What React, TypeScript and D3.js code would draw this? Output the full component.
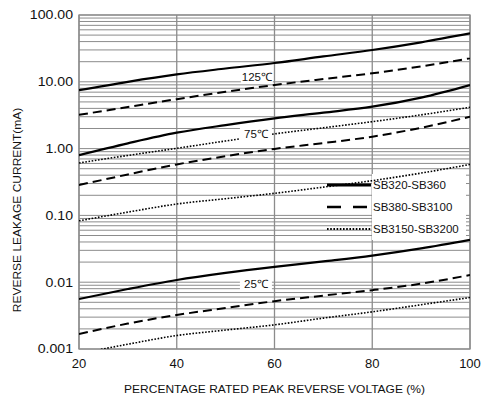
import React from "react";
import * as d3 from "d3";

// percent of rated peak reverse voltage
const voltage = [20, 30, 40, 50, 60, 70, 80, 90, 100];

// reverse leakage current (mA)
const sb320Hot = [7.5, 10.0, 12.9, 15.8, 19.1, 24.0, 29.9, 39.0, 53];
const sb380Hot = [3.2, 4.2, 5.5, 7.1, 8.95, 11.0, 13.4, 17.0, 22.5];
const sb3150Hot = [0.61, 0.79, 1.01, 1.3, 1.66, 2.05, 2.53, 3.2, 4.15];
const sb320Mid = [0.8, 1.2, 1.73, 2.25, 2.84, 3.45, 4.24, 5.8, 8.95];
const sb380Mid = [0.285, 0.41, 0.58, 0.77, 0.99, 1.21, 1.51, 2.05, 3.0];
const sb3150Mid = [0.083, 0.112, 0.148, 0.178, 0.214, 0.265, 0.331, 0.43, 0.58];
const sb320Low = [0.0056, 0.0079, 0.0108, 0.0138, 0.017, 0.0205, 0.025, 0.032, 0.043];
const sb380Low = [0.00168, 0.0024, 0.00323, 0.0041, 0.0052, 0.0063, 0.0076, 0.0095, 0.0128];
const sb3150Low = [0.00085, 0.00118, 0.00159, 0.00192, 0.0023, 0.0029, 0.0036, 0.0046, 0.0059];

const xTicks = [20, 40, 60, 80, 100];
const yTicks = [0.001, 0.01, 0.1, 1, 10, 100];
const yTickLabels = ["0.001", "0.01", "0.10", "1.00", "10.00", "100.00"];

const tempLabels = ["125℃", "75℃", "25℃"];
const tempLabelX = [56.4, 56.2, 56.2];
const tempLabelY = [11.8, 1.66, 0.0094];

const legendNames = ["SB320-SB360", "SB380-SB3100", "SB3150-SB3200"];

const W = 488, H = 396;
const left = 79, right = 470, top = 15, bottom = 349;

const styles: Record<string, { w: number; dash: string }> = {
  solid: { w: 2.2, dash: "" },
  dashed: { w: 2, dash: "9 5" },
  dotted: { w: 1.6, dash: "1.6 1.6" },
};

export default function App() {
  const x = d3.scaleLinear().domain([20, 100]).range([left, right]);
  const y = d3.scaleLog().domain([0.001, 100]).range([bottom, top]);

  const line = d3
    .line<number>()
    .x((_, i) => x(voltage[i]))
    .y((d) => y(d))
    .curve(d3.curveMonotoneX);

  const curves = [
    { data: sb320Hot, s: "solid" },
    { data: sb380Hot, s: "dashed" },
    { data: sb3150Hot, s: "dotted" },
    { data: sb320Mid, s: "solid" },
    { data: sb380Mid, s: "dashed" },
    { data: sb3150Mid, s: "dotted" },
    { data: sb320Low, s: "solid" },
    { data: sb380Low, s: "dashed" },
    { data: sb3150Low, s: "dotted" },
  ];

  const minor: number[] = [];
  for (let d = 0.001; d < 99; d *= 10) {
    for (let k = 2; k <= 9; k++) minor.push(d * k);
  }

  const grid = "#8c8c8c";
  const font = "'Liberation Sans', Arial, sans-serif";
  const legendY = [185, 207, 229];
  const legendStyle = ["solid", "dashed", "dotted"];

  return (
    <svg
      width={W}
      height={H}
      style={{ position: "fixed", left: 0, top: 0, background: "#fff" }}
      fontFamily={font}
    >
      <defs>
        <clipPath id="plot">
          <rect x={left} y={top} width={right - left} height={bottom - top} />
        </clipPath>
      </defs>

      {minor.map((v, i) => (
        <line key={"m" + i} x1={left} x2={right} y1={y(v)} y2={y(v)} stroke={grid} strokeWidth={1} />
      ))}
      {yTicks.map((v) => (
        <line key={"y" + v} x1={left} x2={right} y1={y(v)} y2={y(v)} stroke={grid} strokeWidth={1} />
      ))}
      {xTicks.map((v) => (
        <line key={"x" + v} x1={x(v)} x2={x(v)} y1={top} y2={bottom} stroke={grid} strokeWidth={1.3} />
      ))}
      <rect x={left} y={top} width={right - left} height={bottom - top} fill="none" stroke={grid} strokeWidth={1.3} />

      {/* legend box sits over the grid */}
      <rect x={372} y={174} width={94} height={66} fill="#fff" />

      <g clipPath="url(#plot)">
        {curves.map((c, i) => (
          <path
            key={"c" + i}
            d={line(c.data) || ""}
            fill="none"
            stroke="#000"
            strokeWidth={styles[c.s].w}
            strokeDasharray={styles[c.s].dash}
          />
        ))}
      </g>

      {tempLabels.map((t, i) => (
        <g key={t}>
          <rect x={x(tempLabelX[i]) - 16} y={y(tempLabelY[i]) - 7} width={32} height={14} fill="#fff" />
          <text x={x(tempLabelX[i])} y={y(tempLabelY[i])} dy="0.35em" textAnchor="middle" fontSize={11.5} fill="#111">
            {t}
          </text>
        </g>
      ))}

      {legendNames.map((n, i) => (
        <g key={n}>
          <line
            x1={327}
            x2={371}
            y1={legendY[i]}
            y2={legendY[i]}
            stroke="#000"
            strokeWidth={styles[legendStyle[i]].w + 0.6}
            strokeDasharray={legendStyle[i] === "dashed" ? "14 12" : styles[legendStyle[i]].dash}
          />
          <text x={373} y={legendY[i]} dy="0.35em" fontSize={11.5} fill="#111">
            {n}
          </text>
        </g>
      ))}

      {/* tick labels in the original are a bit wide, so stretch them horizontally */}
      {yTicks.map((v, i) => (
        <text
          key={"yl" + v}
          transform={`translate(73,${y(v)}) scale(1.13,1)`}
          dy="0.35em"
          textAnchor="end"
          fontSize={12.5}
          fill="#111"
        >
          {yTickLabels[i]}
        </text>
      ))}
      {xTicks.map((v) => (
        <text key={"xl" + v} x={x(v)} y={363} dy="0.35em" textAnchor="middle" fontSize={13} fill="#111">
          {v}
        </text>
      ))}

      <text
        transform={`translate(${(left + right) / 2},389) scale(1.2,1)`}
        dy="0.35em"
        textAnchor="middle"
        fontSize={10}
        fill="#111"
      >
        PERCENTAGE RATED PEAK REVERSE VOLTAGE (%)
      </text>
      <text
        transform={`translate(17,210) rotate(-90) scale(1.2,1)`}
        dy="0.35em"
        textAnchor="middle"
        fontSize={10}
        fill="#111"
      >
        REVERSE LEAKAGE CURRENT(mA)
      </text>
    </svg>
  );
}
